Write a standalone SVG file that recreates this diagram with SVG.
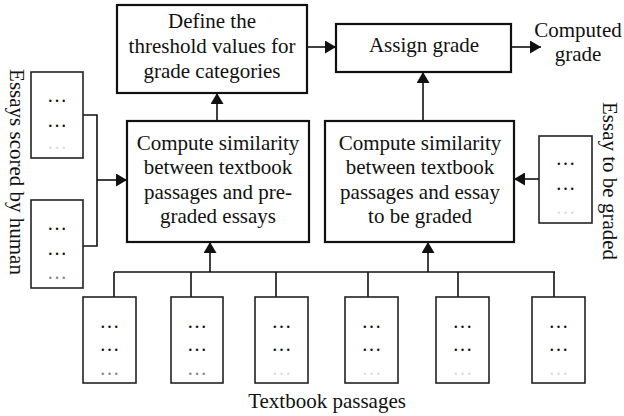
<svg xmlns="http://www.w3.org/2000/svg" width="624" height="416" viewBox="0 0 624 416">
<style>
text{font-family:"Liberation Serif","Times New Roman",serif;font-size:21px;fill:#111;text-anchor:middle}
.big{fill:#fff;stroke:#111;stroke-width:2.2}
.doc{fill:#fff;stroke:#222;stroke-width:1.6}
.c{stroke:#111;stroke-width:1.6;fill:none}
.d{font-size:20px}
.f{fill:#888}
.g{fill:#ddd}
</style>
<defs>
<marker id="ah" markerUnits="userSpaceOnUse" markerWidth="12" markerHeight="13" refX="11" refY="6.5" orient="auto">
<path d="M0,0 L11,6.5 L0,13 z" fill="#111"/>
</marker>
</defs>
<rect width="624" height="416" fill="#fff"/>
<g id="connectors">
<line class="c" x1="307" y1="47" x2="336" y2="47" marker-end="url(#ah)"/>
<line class="c" x1="511" y1="47" x2="541" y2="47" marker-end="url(#ah)"/>
<line class="c" x1="217" y1="121" x2="217" y2="93" marker-end="url(#ah)"/>
<line class="c" x1="423" y1="121" x2="423" y2="72" marker-end="url(#ah)"/>
<polyline class="c" points="83,115 97,115 97,246 83,246"/>
<line class="c" x1="97" y1="180" x2="127" y2="180" marker-end="url(#ah)"/>
<line class="c" x1="539" y1="179" x2="514" y2="179" marker-end="url(#ah)"/>
<path class="c" d="M114,272 H555 M114,272 V297 M191,272 V297 M276,272 V297 M368,272 V297 M458,272 V297 M554,272 V297"/>
<line class="c" x1="210" y1="272" x2="210" y2="242" marker-end="url(#ah)"/>
<line class="c" x1="428" y1="272" x2="428" y2="242" marker-end="url(#ah)"/>
</g>
<g id="define">
<rect class="big" x="117" y="5" width="190" height="88"/>
<text x="212" y="28">Define the</text>
<text x="212" y="53">threshold values for</text>
<text x="212" y="78">grade categories</text>
</g>
<g id="assign">
<rect class="big" x="336" y="24" width="175" height="48"/>
<text x="424" y="52">Assign grade</text>
</g>
<g id="computed">
<text x="578" y="37">Computed</text>
<text x="578" y="61">grade</text>
</g>
<g id="compute1">
<rect class="big" x="127" y="121" width="182" height="121"/>
<text x="218" y="150">Compute similarity</text>
<text x="218" y="174">between textbook</text>
<text x="218" y="199">passages and pre-</text>
<text x="218" y="223">graded essays</text>
</g>
<g id="compute2">
<rect class="big" x="325" y="121" width="189" height="121"/>
<text x="420" y="150">Compute similarity</text>
<text x="420" y="174">between textbook</text>
<text x="420" y="199">passages and essay</text>
<text x="420" y="223">to be graded</text>
</g>
<g id="essays-human">
<rect class="doc" x="31" y="72" width="52" height="86"/>
<text class="d" x="57" y="102">…</text>
<text class="d" x="57" y="127">…</text>
<text class="d g" x="57" y="149">…</text>
<rect class="doc" x="31" y="200" width="52" height="88"/>
<text class="d" x="57" y="230">…</text>
<text class="d" x="57" y="255">…</text>
<text class="d f" x="57" y="279">…</text>
<text transform="translate(10,172) rotate(90)">Essays scored by human</text>
</g>
<g id="essay-to-grade">
<rect class="doc" x="539" y="136" width="53" height="87"/>
<text class="d" x="565.5" y="165">…</text>
<text class="d" x="565.5" y="190">…</text>
<text class="d g" x="565.5" y="214">…</text>
<text transform="translate(603,181) rotate(90)">Essay to be graded</text>
</g>
<g id="textbook">
<rect class="doc" x="83" y="297" width="53" height="86"/>
<text class="d" x="109.5" y="328">…</text><text class="d" x="109.5" y="351">…</text><text class="d f" x="109.5" y="375">…</text>
<rect class="doc" x="171" y="297" width="52" height="86"/>
<text class="d" x="197" y="328">…</text><text class="d" x="197" y="351">…</text><text class="d f" x="197" y="375">…</text>
<rect class="doc" x="255" y="297" width="53" height="86"/>
<text class="d" x="281.5" y="328">…</text><text class="d" x="281.5" y="351">…</text><text class="d g" x="281.5" y="375">…</text>
<rect class="doc" x="345" y="297" width="53" height="86"/>
<text class="d" x="371.5" y="328">…</text><text class="d" x="371.5" y="351">…</text><text class="d g" x="371.5" y="375">…</text>
<rect class="doc" x="436" y="297" width="53" height="86"/>
<text class="d" x="462.5" y="328">…</text><text class="d" x="462.5" y="351">…</text><text class="d g" x="462.5" y="375">…</text>
<rect class="doc" x="532" y="297" width="53" height="86"/>
<text class="d" x="558.5" y="328">…</text><text class="d" x="558.5" y="351">…</text><text class="d g" x="558.5" y="375">…</text>
<text x="327" y="408">Textbook passages</text>
</g>
</svg>
